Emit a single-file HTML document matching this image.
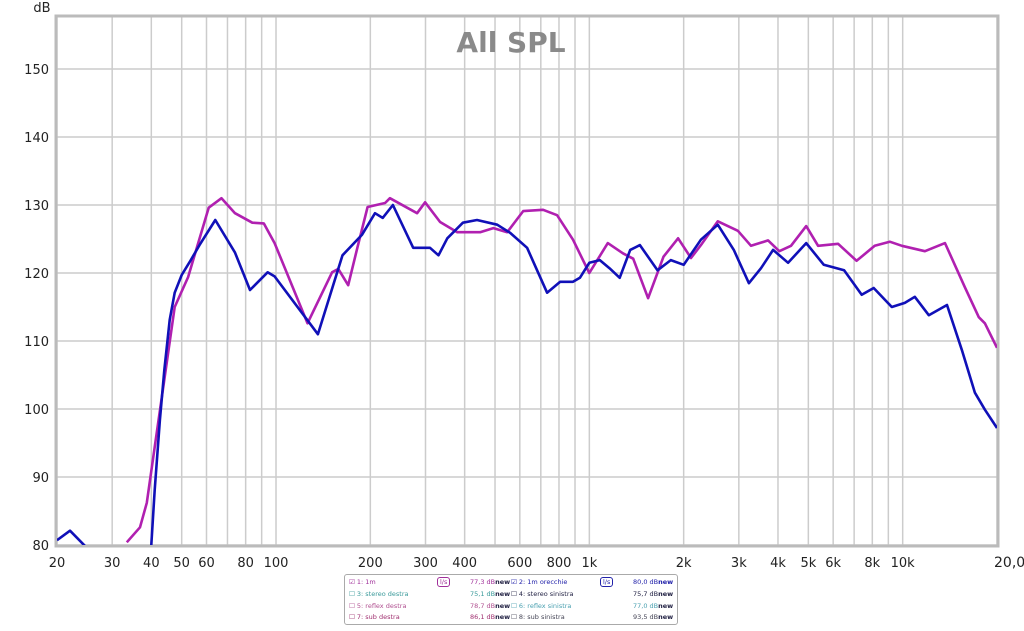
<!DOCTYPE html>
<html><head><meta charset="utf-8"><style>
body{margin:0;background:#fff;width:1024px;height:626px;overflow:hidden;font-family:"Liberation Sans","DejaVu Sans",sans-serif}
svg text{font-family:"DejaVu Sans","Liberation Sans",sans-serif}
</style></head><body>
<svg id="chart" width="1024" height="626" xmlns="http://www.w3.org/2000/svg">
<defs><clipPath id="plotclip"><rect x="57" y="17" width="940" height="528"/></clipPath></defs>
<rect x="57" y="17" width="940" height="528" fill="#fff"/>
<g id="grid"></g>
<rect x="56" y="16" width="942" height="530" fill="none" stroke="#bbb" stroke-width="3"/>
<text x="511" y="52" text-anchor="middle" font-size="28" font-weight="bold" fill="#8a8a8a">All SPL</text>
<text x="42" y="12" text-anchor="middle" font-size="13" fill="#222">dB</text>
<g id="yticks"></g>
<g id="xticks"></g>
<text x="994" y="567" font-size="14" fill="#222">20,0k Hz</text>
<g id="series" clip-path="url(#plotclip)"></g>
</svg>
<div style="position:absolute;left:344px;top:574px;width:332px;height:49px;border:1px solid #aaa;border-radius:3px;font-size:6.5px;font-family:'DejaVu Sans',sans-serif">
<div style="position:absolute;left:4px;top:3px;color:#a0309a">☑ 1: 1m</div>
<div style="position:absolute;left:92px;top:2px;color:#a0309a;border:1px solid #a0309a;border-radius:3px;padding:0 2px">l/s</div>
<div style="position:absolute;left:125px;top:3px;color:#a0309a">77,3 dB<b style="color:#224">new</b></div>
<div style="position:absolute;left:166px;top:3px;color:#22a">☑ 2: 1m orecchie</div>
<div style="position:absolute;left:255px;top:2px;color:#22a;border:1px solid #22a;border-radius:3px;padding:0 2px">l/s</div>
<div style="position:absolute;left:288px;top:3px;color:#22a">80,0 dB<b>new</b></div>
<div style="position:absolute;left:4px;top:15px;color:#3a9a9a">☐ 3: stereo destra</div>
<div style="position:absolute;left:125px;top:15px;color:#3a9a9a">75,1 dB<b style="color:#224">new</b></div>
<div style="position:absolute;left:166px;top:15px;color:#224">☐ 4: stereo sinistra</div>
<div style="position:absolute;left:288px;top:15px;color:#224">75,7 dB<b>new</b></div>
<div style="position:absolute;left:4px;top:27px;color:#b05090">☐ 5: reflex destra</div>
<div style="position:absolute;left:125px;top:27px;color:#b05090">78,7 dB<b style="color:#224">new</b></div>
<div style="position:absolute;left:166px;top:27px;color:#4aa0b0">☐ 6: reflex sinistra</div>
<div style="position:absolute;left:288px;top:27px;color:#4aa0b0">77,0 dB<b style="color:#224">new</b></div>
<div style="position:absolute;left:4px;top:38px;color:#a03070">☐ 7: sub destra</div>
<div style="position:absolute;left:125px;top:38px;color:#a03070">86,1 dB<b style="color:#224">new</b></div>
<div style="position:absolute;left:166px;top:38px;color:#445">☐ 8: sub sinistra</div>
<div style="position:absolute;left:288px;top:38px;color:#445">93,5 dB<b style="color:#224">new</b></div>
</div>
<script>
const yTicks=[80,90,100,110,120,130,140,150];
const xGrid=[20,30,40,50,60,70,80,90,100,200,300,400,500,600,700,800,900,1000,2000,3000,4000,5000,6000,7000,8000,9000,10000,20000];
const xTickVals=[20,30,40,50,60,80,100,200,300,400,600,800,1000,2000,3000,4000,5000,6000,8000,10000];
const xTickLabels=["20","30","40","50","60","80","100","200","300","400","600","800","1k","2k","3k","4k","5k","6k","8k","10k"];
const blueFreq=[20,22,25,27,38,40,41,42.6,44,45.8,47.5,50,53,57,64,74,82.6,94,99,136,163,188,207,219,236,274,310,330,352,395,438,508,559,633,681,733,807,887,933,1000,1080,1160,1250,1350,1450,1650,1820,2000,2270,2570,2890,3230,3530,3860,4310,4920,5600,6500,7400,8080,9230,10160,10930,12120,13850,15440,17000,18300,20000];
const blueDb=[80.7,82.1,79.5,75,75,80,88.1,98.4,105.7,113.1,117.1,119.7,121.6,124.1,127.8,123,117.5,120.1,119.5,111,122.6,125.6,128.8,128.1,130,123.7,123.7,122.6,125.1,127.4,127.8,127.1,125.9,123.7,120.4,117.1,118.7,118.7,119.3,121.5,121.9,120.7,119.3,123.4,124.1,120.4,121.9,121.2,124.9,127.1,123.4,118.5,120.7,123.4,121.5,124.4,121.2,120.4,116.8,117.8,115,115.6,116.5,113.8,115.3,108.7,102.4,99.9,97.2];
const magFreq=[33.4,36.8,38.7,41,44,47.5,52.4,61,67,74,84,91.4,99,126,151,158,170,182,196,223,231,262,282,299,334,379,448,494,547,615,712,789,887,1000,1145,1280,1380,1540,1725,1920,2110,2270,2570,2980,3280,3720,4040,4400,4920,5370,6220,7130,8140,9100,9940,11770,13650,15800,17500,18300,20000];
const magDb=[80.4,82.6,86.2,94.4,104.3,115,119.4,129.6,131,128.8,127.4,127.3,124.4,112.6,120.1,120.6,118.2,123.8,129.7,130.3,131,129.6,128.8,130.4,127.5,126,126,126.6,126,129.1,129.3,128.5,124.9,120,124.4,122.9,122.1,116.3,122.4,125.1,122.2,124.1,127.6,126.2,124,124.8,123.2,124,126.9,124,124.3,121.8,124,124.6,124,123.2,124.4,117.9,113.5,112.6,109];
const X0=57,X1=997,Y0=545,Y1=17;
const xs=f=>X0+(X1-X0)*Math.log10(f/20)/3;
const ys=d=>Y0-(d-80)*6.8;
const NS="http://www.w3.org/2000/svg";
function mk(t,a,p){const e=document.createElementNS(NS,t);for(const k in a)e.setAttribute(k,a[k]);p.appendChild(e);return e;}
const grid=document.getElementById('grid');
xGrid.forEach(f=>{const l=mk('line',{x1:xs(f),x2:xs(f),y1:Y1,y2:Y0,stroke:'#ccc','stroke-width':1.5},grid);

});
yTicks.forEach(d=>{const l=mk('line',{x1:X0,x2:X1,y1:ys(d),y2:ys(d),stroke:'#ccc','stroke-width':1.5},grid);

});
const yt=document.getElementById('yticks');
yTicks.forEach(d=>{const t=mk('text',{x:49,y:ys(d)+5,'text-anchor':'end','font-size':13,fill:'#222'},yt);t.textContent=d;

});
const xt=document.getElementById('xticks');
xTickVals.forEach((f,i)=>{if(f===20&&false)return;const t=mk('text',{x:xs(f),y:567,'text-anchor':'middle','font-size':13,fill:'#222'},xt);t.textContent=xTickLabels[i];

});
const sg=document.getElementById('series');
function line(F,D,c,name){const d=F.map((f,i)=>(i?'L':'M')+xs(f).toFixed(1)+','+ys(D[i]).toFixed(1)).join('');
const p=mk('path',{d:d,fill:'none',stroke:c,'stroke-width':2.6,'stroke-linejoin':'round'},sg);

}
line(magFreq,magDb,'#b020b0','series-1m');
line(blueFreq,blueDb,'#1010b8','series-1m-orecchie');
</script>
</body></html>
